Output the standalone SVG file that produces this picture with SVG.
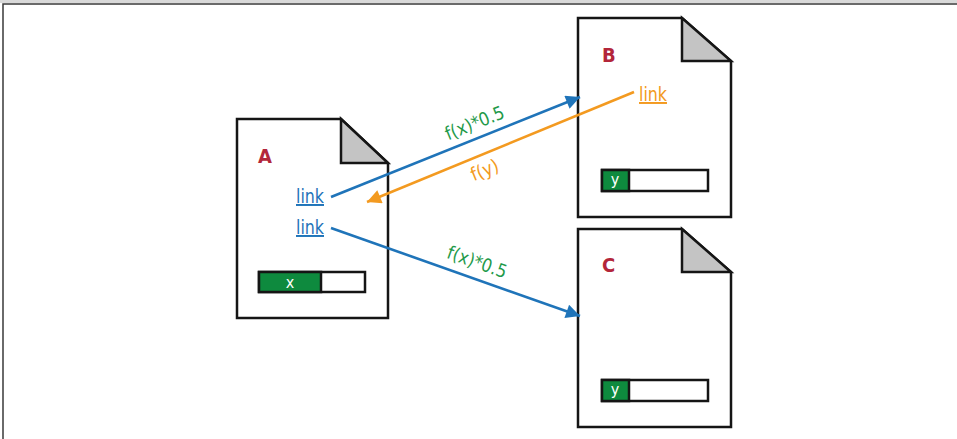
<svg xmlns="http://www.w3.org/2000/svg" width="957" height="439" viewBox="0 0 957 439">
<style>
.doc{fill:#fff;stroke:#151515;stroke-width:2.5;stroke-linejoin:miter}
.fold{fill:#c4c4c4;stroke:#151515;stroke-width:2.5;stroke-linejoin:miter}
.t{font-family:"DejaVu Sans Condensed","DejaVu Sans",sans-serif;font-stretch:condensed}
.title{font-size:20px;font-weight:bold;fill:#b3263a}
.lnk{font-size:19.5px;text-decoration:underline}
.barbg{fill:#fff;stroke:#151515;stroke-width:2.5}
.barfg{fill:#0e8a3e;stroke:#151515;stroke-width:2.5}
.bartx{font-size:16px;fill:#fff;text-anchor:middle}
.blue{stroke:#1f74b9;stroke-width:2.6;fill:none}
.orange{stroke:#f39a20;stroke-width:2.6;fill:none}
.lbl{font-size:18.5px;text-anchor:middle}
</style>
<defs>
<marker id="ab" viewBox="0 0 10 10" refX="10" refY="5" markerWidth="6.4" markerHeight="5.4" orient="auto" markerUnits="strokeWidth"><path d="M0,0 L10,5 L0,10 z" fill="#1f74b9"/></marker>
<marker id="ao" viewBox="0 0 10 10" refX="10" refY="5" markerWidth="6.4" markerHeight="5.4" orient="auto" markerUnits="strokeWidth"><path d="M0,0 L10,5 L0,10 z" fill="#f39a20"/></marker>
</defs>
<rect x="0" y="0" width="957" height="439" fill="#fff"/>
<rect x="0" y="0" width="957" height="3" fill="#d9d9d9"/>
<path d="M3,439 V4 H957" fill="none" stroke="#3a3a3a" stroke-width="1.5"/>

<g id="docA">
<path class="doc" d="M237,119 H341 L388,163 V318 H237 Z"/>
<path class="fold" d="M341,119 V163 H388 Z"/>
<text class="t title" x="258" y="163">A</text>
<text class="t lnk" x="296" y="203" fill="#1f74b9" textLength="28" lengthAdjust="spacingAndGlyphs">link</text>
<text class="t lnk" x="296" y="234" fill="#1f74b9" textLength="28" lengthAdjust="spacingAndGlyphs">link</text>
<rect class="barbg" x="259" y="272" width="106" height="20"/>
<rect class="barfg" x="259" y="272" width="62" height="20"/>
<text class="t bartx" x="290" y="288">x</text>
</g>

<g id="docB">
<path class="doc" d="M578,18 H682 L731,61 V217 H578 Z"/>
<path class="fold" d="M682,18 V61 H731 Z"/>
<text class="t title" x="602" y="62">B</text>
<text class="t lnk" x="639" y="101" fill="#f39a20" textLength="28" lengthAdjust="spacingAndGlyphs">link</text>
<rect class="barbg" x="602" y="170" width="106" height="21"/>
<rect class="barfg" x="602" y="170" width="27" height="21"/>
<text class="t bartx" x="615" y="185">y</text>
</g>

<g id="docC">
<path class="doc" d="M578,229 H682 L731,272 V427 H578 Z"/>
<path class="fold" d="M682,229 V272 H731 Z"/>
<text class="t title" x="602" y="272">C</text>
<rect class="barbg" x="602" y="380" width="106" height="21"/>
<rect class="barfg" x="602" y="380" width="27" height="21"/>
<text class="t bartx" x="615" y="395">y</text>
</g>

<g id="connectors">
<line class="blue" x1="331" y1="197" x2="580" y2="97" marker-end="url(#ab)"/>
<line class="orange" x1="634" y1="92" x2="367" y2="202" marker-end="url(#ao)"/>
<line class="blue" x1="331" y1="228" x2="580" y2="316" marker-end="url(#ab)"/>
<text class="t lbl" fill="#1f9a4a" transform="translate(477,129) rotate(-22)" textLength="62" lengthAdjust="spacingAndGlyphs">f(x)*0.5</text>
<text class="t lbl" fill="#f39a20" transform="translate(487,176) rotate(-22)">f(y)</text>
<text class="t lbl" fill="#1f9a4a" transform="translate(475,268) rotate(19.5)" textLength="62" lengthAdjust="spacingAndGlyphs">f(x)*0.5</text>
</g>
</svg>
